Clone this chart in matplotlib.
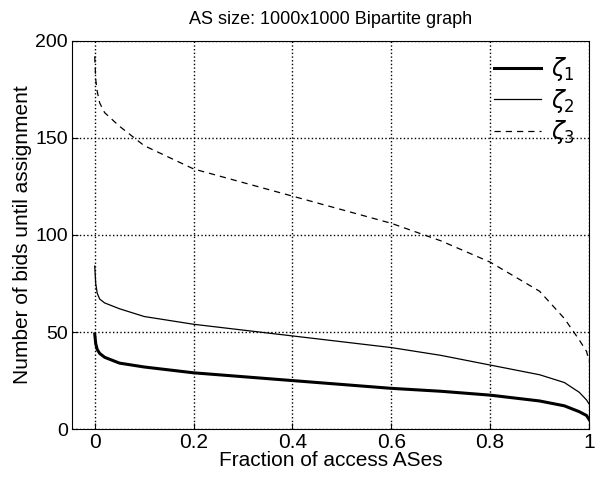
import matplotlib.pyplot as plt

plt.rcParams['font.family'] = ['Liberation Sans', 'DejaVu Sans']

# fraction of access ASes (sorted), bids until assignment
fraction = [0.0, 0.002, 0.005, 0.01, 0.02, 0.05, 0.1, 0.2, 0.3, 0.4, 0.5,
            0.6, 0.7, 0.8, 0.9, 0.95, 0.98, 0.995, 1.0]
zeta1 = [49, 44, 41, 39, 37, 34, 32, 29, 27, 25, 23, 21, 19.5, 17.5, 14.5,
         12, 9, 7, 5]
zeta2 = [84, 75, 70, 67, 65, 62, 58, 54, 51, 48, 45, 42, 38, 33, 28, 24,
         19, 15, 13]
zeta3 = [192, 180, 174, 168, 163, 156, 146, 134, 127, 120, 113, 106, 97,
         86, 71, 57, 46, 40, 35]

fig = plt.figure(figsize=(5.95, 4.8), dpi=100)
ax = fig.add_axes([0.121, 0.106, 0.869, 0.809])

ax.plot(fraction, zeta1, color='black', lw=2.2, label=r'$\zeta_1$')
ax.plot(fraction, zeta2, color='black', lw=0.9, label=r'$\zeta_2$')
ax.plot(fraction, zeta3, color='black', lw=0.9, ls=(0, (5, 4)), label=r'$\zeta_3$')

ax.set_xlim(-0.046, 1.0)
ax.set_ylim(0, 200)
ax.set_xticks([0, 0.2, 0.4, 0.6, 0.8, 1])
ax.set_xticklabels(['0', '0.2', '0.4', '0.6', '0.8', '1'])
ax.set_yticks([0, 50, 100, 150, 200])
ax.tick_params(direction='in', labelsize=15, length=4, pad=3)
ax.tick_params(axis='y', labelsize=14)
ax.grid(True, color='black', ls=':', lw=1)

ax.set_xlabel('Fraction of access ASes', fontsize=15, labelpad=-1)
ax.set_ylabel('Number of bids until assignment', fontsize=15, labelpad=2)
ax.set_title('AS size: 1000x1000 Bipartite graph', fontsize=13, pad=12)

leg = ax.legend(loc='upper right', frameon=False, fontsize=17,
                handlelength=2.0, labelspacing=0.15, borderaxespad=0.2,
                handletextpad=0.4)

fig.savefig('out.png', dpi=100)
